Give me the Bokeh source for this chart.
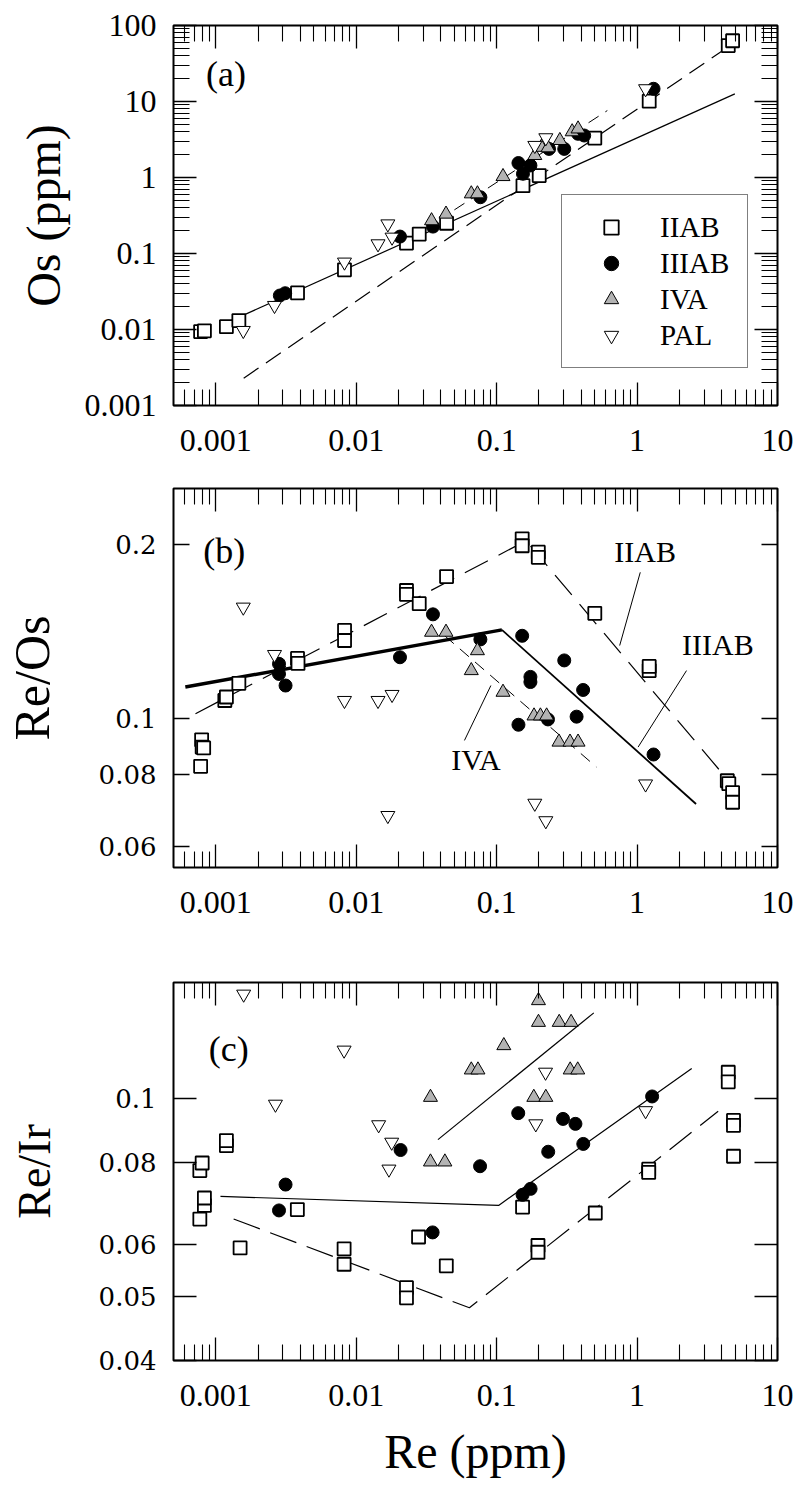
from bokeh.plotting import figure
from bokeh.models import (LogAxis, FixedTicker, Legend, LegendItem, Label, Range1d,
                          CustomJSTickFormatter, CustomLabelingPolicy)
from bokeh.layouts import column
from bokeh.embed import file_html
from bokeh.resources import INLINE

SERIF = "Liberation Serif"
SERIF_WIDE = "DejaVu Serif"

# ---------------- axis ticks ----------------
re_major = [0.001, 0.01, 0.1, 1, 10]
re_minor = [0.0006, 0.0007, 0.0008, 0.0009,
            0.002, 0.003, 0.004, 0.005, 0.006, 0.007, 0.008, 0.009,
            0.02, 0.03, 0.04, 0.05, 0.06, 0.07, 0.08, 0.09,
            0.2, 0.3, 0.4, 0.5, 0.6, 0.7, 0.8, 0.9,
            2, 3, 4, 5, 6, 7, 8, 9]
os_major = [0.001, 0.01, 0.1, 1, 10, 100]
os_minor = [m * 10.0 ** e for e in range(-3, 2) for m in range(2, 10)]
reos_major = [0.06, 0.08, 0.1, 0.2]
reir_major = [0.04, 0.05, 0.06, 0.08, 0.1]

# ---------------- panel (a): Os vs Re ----------------
a_iiab_re = [0.00078, 0.00083, 0.00119, 0.00146, 0.00382, 0.00825, 0.0228, 0.0281, 0.044,
             0.154, 0.201, 0.50, 1.22, 4.46, 4.79]
a_iiab_os = [0.0094, 0.0096, 0.0109, 0.0131, 0.0303, 0.061, 0.137, 0.18, 0.25,
             0.78, 1.06, 3.3, 10.1, 54.5, 63]
a_iiiab_re = [0.00286, 0.00312, 0.0205, 0.0352, 0.0766, 0.143, 0.154, 0.174, 0.236, 0.303,
              0.38, 0.42, 1.31]
a_iiiab_os = [0.028, 0.030, 0.167, 0.226, 0.55, 1.55, 1.12, 1.44, 2.38, 2.38,
              3.76, 3.57, 14.7]
a_iva_re = [0.0344, 0.0436, 0.066, 0.073, 0.111, 0.187, 0.208, 0.232, 0.282, 0.345, 0.38]
a_iva_os = [0.27, 0.33, 0.61, 0.61, 1.03, 1.95, 2.5, 2.46, 3.07, 4.0, 4.36]
a_pal_re = [0.00157, 0.00262, 0.00825, 0.0143, 0.0168, 0.018, 0.187, 0.224, 1.15]
a_pal_os = [0.0097, 0.0207, 0.077, 0.134, 0.245, 0.164, 2.64, 3.33, 14.7]
a_fit1_re = [0.00108, 4.97]
a_fit1_os = [0.0113, 12.6]
a_fit2_re = [0.00158, 4.79]
a_fit2_os = [0.00229, 57.4]
a_fit_iva_re = [0.05, 0.614]
a_fit_iva_os = [0.375, 7.6]

# ---------------- panel (b): Re/Os vs Re ----------------
b_iiab_re = [0.000793, 0.0008, 0.00082, 0.00078, 0.00116, 0.00119, 0.00146, 0.00382, 0.00385,
             0.00826, 0.00826, 0.0228, 0.0228, 0.0281, 0.044, 0.152, 0.152, 0.198, 0.198,
             0.50, 1.22, 1.22, 4.39, 4.5, 4.79, 4.79]
b_iiab_ro = [0.0918, 0.0892, 0.0889, 0.0826, 0.1074, 0.1089, 0.115, 0.127, 0.1245,
             0.142, 0.1364, 0.1665, 0.164, 0.158, 0.176, 0.2046, 0.199, 0.194, 0.19,
             0.152, 0.121, 0.123, 0.078, 0.0771, 0.0744, 0.0716]
b_iiiab_re = [0.00282, 0.00282, 0.00314, 0.0205, 0.0352, 0.0766, 0.152, 0.143, 0.174, 0.174,
              0.232, 0.303, 0.371, 0.413, 1.31]
b_iiiab_ro = [0.1243, 0.1194, 0.114, 0.1276, 0.1514, 0.137, 0.139, 0.0975, 0.118, 0.1156,
              0.0996, 0.126, 0.1007, 0.112, 0.0866]
b_iva_re = [0.0344, 0.0436, 0.066, 0.073, 0.111, 0.1846, 0.205, 0.227, 0.278, 0.333, 0.38]
b_iva_ro = [0.141, 0.141, 0.121, 0.131, 0.111, 0.101, 0.101, 0.101, 0.091, 0.091, 0.091]
b_pal_re = [0.00157, 0.00262, 0.00825, 0.0143, 0.018, 0.0168, 0.187, 0.224, 1.15]
b_pal_ro = [0.1558, 0.129, 0.1074, 0.1074, 0.110, 0.0679, 0.0713, 0.0665, 0.077]
b_fit_iiiab_re = [0.000607, 0.109, 2.63]
b_fit_iiiab_ro = [0.1133, 0.1423, 0.0711]
b_fit_iiab_re = [0.000717, 0.162, 4.79]
b_fit_iiab_ro = [0.1019, 0.203, 0.0765]
b_fit_iva_re = [0.0427, 0.513]
b_fit_iva_ro = [0.139, 0.0824]
b_lead_iiab_re = [1.054, 0.752]
b_lead_iiab_ro = [0.179, 0.1337]
b_lead_iiiab_re = [2.25, 1.017]
b_lead_iiiab_ro = [0.121, 0.0892]
b_lead_iva_re = [0.091, 0.059]
b_lead_iva_ro = [0.114, 0.0916]

# ---------------- panel (c): Re/Ir vs Re ----------------
c_iiab_re = [0.00077, 0.0008, 0.00077, 0.00083, 0.00083, 0.00119, 0.00119, 0.00149, 0.00381,
             0.0082, 0.0082, 0.0228, 0.0228, 0.0278, 0.0438, 0.153, 0.197, 0.197, 0.504,
             1.21, 1.21, 4.46, 4.46, 4.86, 4.86, 4.86]
c_iiab_ri = [0.0777, 0.0798, 0.0656, 0.0688, 0.0706, 0.0848, 0.0863, 0.0593, 0.0678,
             0.0591, 0.056, 0.0516, 0.0498, 0.0616, 0.0557, 0.0684, 0.0598, 0.0584, 0.067,
             0.0781, 0.0772, 0.1096, 0.106, 0.0926, 0.091, 0.0817]
c_iiiab_re = [0.00282, 0.00314, 0.0207, 0.035, 0.0762, 0.1425, 0.153, 0.1745, 0.233, 0.297,
              0.364, 0.414, 1.28]
c_iiiab_ri = [0.0676, 0.074, 0.0835, 0.0626, 0.0789, 0.095, 0.0714, 0.0729, 0.083, 0.0931,
              0.0915, 0.0853, 0.1007]
c_iva_re = [0.0338, 0.0338, 0.0428, 0.066, 0.0736, 0.1125, 0.1986, 0.1986, 0.279, 0.339,
            0.334, 0.378, 0.184, 0.224]
c_iva_ri = [0.1004, 0.0801, 0.0801, 0.1105, 0.1105, 0.1203, 0.1408, 0.1305, 0.1305, 0.1305,
            0.1105, 0.1105, 0.1004, 0.1004]
c_pal_re = [0.00158, 0.00266, 0.0082, 0.01445, 0.0179, 0.0171, 0.223, 0.19, 1.15]
c_pal_ri = [0.144, 0.098, 0.1184, 0.0912, 0.0858, 0.0781, 0.1096, 0.0915, 0.0958]
c_fit_iiiab_re = [0.00108, 0.1033, 2.45]
c_fit_iiiab_ri = [0.0710, 0.0688, 0.111]
c_fit_iva_re = [0.0382, 0.492]
c_fit_iva_ri = [0.0866, 0.1349]
c_fit_iiab_re = [0.00134, 0.064, 3.78]
c_fit_iiab_ri = [0.0656, 0.0481, 0.0956]

fmt_code = "return tick.toString();"


def style_axis(ax, ticker, maj_len, min_len, show_labels, font=SERIF, font_px="32px",
               standoff=24):
    ax.ticker = ticker
    ax.formatter = CustomJSTickFormatter(code=fmt_code)
    ax.axis_line_color = None
    ax.major_tick_in = maj_len
    ax.major_tick_out = 0
    ax.minor_tick_in = min_len
    ax.minor_tick_out = 0
    ax.major_tick_line_color = "black"
    ax.minor_tick_line_color = "black"
    ax.major_tick_line_width = 1.3
    ax.minor_tick_line_width = 1.1
    if show_labels:
        ax.major_label_text_font = font
        ax.major_label_text_font_size = font_px
        ax.major_label_text_color = "black"
        ax.major_label_standoff = standoff
    else:
        ax.major_label_text_font_size = "0px"
        ax.major_label_standoff = 0
        ax.major_label_policy = CustomLabelingPolicy(code="return new Set();")


def make_panel(h, btop, bbot, yr, ymaj, ymin, ymaj_len, ymin_len, ylab, ylab_px, ylab_sd,
               yfont, yfont_px):
    p = figure(width=795, height=h, x_axis_type="log", y_axis_type="log",
               x_range=Range1d(0.0005, 10), y_range=Range1d(*yr),
               output_backend="svg", toolbar_location=None,
               min_border_left=166, min_border_right=18,
               min_border_top=btop, min_border_bottom=bbot)
    p.xgrid.visible = False
    p.ygrid.visible = False
    p.outline_line_color = "black"
    p.outline_line_width = 2
    p.background_fill_color = "white"
    p.border_fill_color = "white"
    xt = FixedTicker(ticks=re_major, minor_ticks=re_minor)
    yt = FixedTicker(ticks=ymaj, minor_ticks=ymin)
    xbottom = p.xaxis[0]
    yleft = p.yaxis[0]
    style_axis(xbottom, xt, 23, 16, True, SERIF, "32px", 24)
    style_axis(yleft, yt, ymaj_len, ymin_len, True, yfont, yfont_px, 17)
    top = LogAxis()
    style_axis(top, xt, 23, 16, False)
    p.add_layout(top, "above")
    right = LogAxis()
    style_axis(right, yt, ymaj_len, ymin_len, False)
    p.add_layout(right, "right")
    yleft.axis_label = ylab
    yleft.axis_label_text_font = SERIF
    yleft.axis_label_text_font_size = ylab_px
    yleft.axis_label_text_font_style = "normal"
    yleft.axis_label_text_color = "black"
    yleft.axis_label_standoff = ylab_sd
    return p, xbottom


def add_points(p, data):
    (ii_x, ii_y), (iii_x, iii_y), (iv_x, iv_y), (pal_x, pal_y) = data
    r1 = p.scatter(ii_x, ii_y, marker="square", size=13, fill_color="white",
                   line_color="black", line_width=1.8)
    r2 = p.scatter(iii_x, iii_y, marker="circle", size=13, fill_color="black",
                   line_color="black", line_width=1)
    r3 = p.scatter(iv_x, iv_y, marker="triangle", size=14, fill_color="#b3b3b3",
                   line_color="black", line_width=1)
    r4 = p.scatter(pal_x, pal_y, marker="inverted_triangle", size=14, fill_color="white",
                   line_color="black", line_width=1)
    return r1, r2, r3, r4


def tag(p, x, y, text, size):
    p.add_layout(Label(x=x, y=y, text=text, text_font=SERIF, text_font_size=size,
                       text_color="black", text_baseline="alphabetic", text_align="left"))


# ---------------- (a) ----------------
pa, _ = make_panel(468, 25, 63, (0.001, 100), os_major, os_minor, 23, 16,
                   "Os (ppm)", "48px", 12, SERIF, "32px")
pa.line(a_fit1_re, a_fit1_os, line_color="black", line_width=1.2)
pa.line(a_fit2_re, a_fit2_os, line_color="black", line_width=1.2, line_dash="18 9")
pa.line(a_fit_iva_re, a_fit_iva_os, line_color="black", line_width=1.0, line_dash="12 8")
ra = add_points(pa, [(a_iiab_re, a_iiab_os), (a_iiiab_re, a_iiiab_os),
                     (a_iva_re, a_iva_os), (a_pal_re, a_pal_os)])
tag(pa, 0.000853, 23.3, "(a)", "36px")
legend = Legend(items=[LegendItem(label="IIAB", renderers=[ra[0]]),
                       LegendItem(label="IIIAB", renderers=[ra[1]]),
                       LegendItem(label="IVA", renderers=[ra[2]]),
                       LegendItem(label="PAL", renderers=[ra[3]])],
                location=(388, 37), glyph_width=70, glyph_height=36, label_height=36,
                label_width=73, label_standoff=14, spacing=0, padding=14, margin=0,
                border_line_color="black", border_line_width=1.5,
                label_text_font=SERIF, label_text_font_size="29px",
                label_text_color="black",
                background_fill_color="white", background_fill_alpha=1)
pa.add_layout(legend)

# ---------------- (b) ----------------
pb, _ = make_panel(494, 20, 95, (0.0552, 0.25), reos_major, [], 16, 0,
                   "Re/Os", "50px", 36, SERIF_WIDE, "26px")
pb.line(b_fit_iiiab_re[:2], b_fit_iiiab_ro[:2], line_color="black", line_width=3.5)
pb.line(b_fit_iiiab_re[1:], b_fit_iiiab_ro[1:], line_color="black", line_width=1.8)
pb.line(b_fit_iiab_re, b_fit_iiab_ro, line_color="black", line_width=1.2, line_dash="26 12")
pb.line(b_fit_iva_re, b_fit_iva_ro, line_color="black", line_width=1.0, line_dash="12 8")
for lx, ly in [(b_lead_iiab_re, b_lead_iiab_ro), (b_lead_iiiab_re, b_lead_iiiab_ro),
               (b_lead_iva_re, b_lead_iva_ro)]:
    pb.line(lx, ly, line_color="black", line_width=1.0)
add_points(pb, [(b_iiab_re, b_iiab_ro), (b_iiiab_re, b_iiiab_ro),
                (b_iva_re, b_iva_ro), (b_pal_re, b_pal_ro)])
tag(pb, 0.000813, 0.1945, "(b)", "36px")
tag(pb, 0.689, 0.1945, "IIAB", "30px")
tag(pb, 2.093, 0.1343, "IIIAB", "30px")
tag(pb, 0.0475, 0.0849, "IVA", "30px")

# ---------------- (c) ----------------
pc, xa = make_panel(527, 20, 129, (0.04, 0.15), reir_major, [], 23, 0,
                    "Re/Ir", "46px", 36, SERIF_WIDE, "26px")
pc.line(c_fit_iiiab_re, c_fit_iiiab_ri, line_color="black", line_width=1.2)
pc.line(c_fit_iva_re, c_fit_iva_ri, line_color="black", line_width=1.2)
pc.line(c_fit_iiab_re, c_fit_iiab_ri, line_color="black", line_width=1.2, line_dash="28 11")
add_points(pc, [(c_iiab_re, c_iiab_ri), (c_iiiab_re, c_iiiab_ri),
                (c_iva_re, c_iva_ri), (c_pal_re, c_pal_ri)])
tag(pc, 0.00089, 0.1187, "(c)", "36px")
xa.axis_label = "Re (ppm)"
xa.axis_label_text_font = SERIF
xa.axis_label_text_font_size = "48px"
xa.axis_label_text_font_style = "normal"
xa.axis_label_text_color = "black"
xa.axis_label_standoff = 16

layout = column(pa, pb, pc, spacing=0)
open("out.html", "w").write(file_html(layout, INLINE))
